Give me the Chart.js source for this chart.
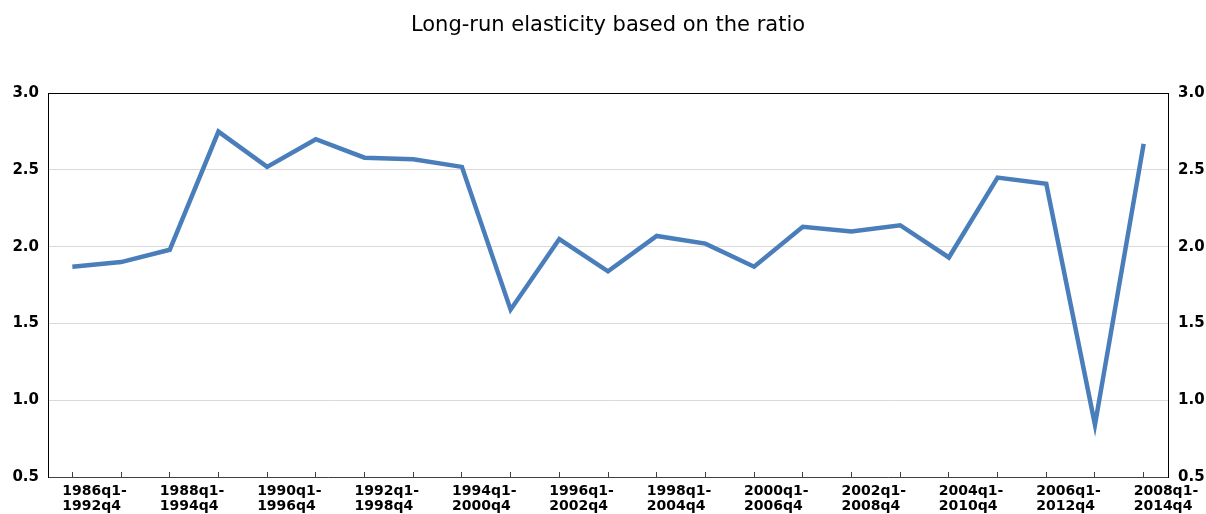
<!DOCTYPE html>
<html>
<head>
<meta charset="utf-8">
<script src="https://cdn.jsdelivr.net/npm/chart.js@4.4.1/dist/chart.umd.min.js"></script>
<style>
  html, body { margin: 0; padding: 0; background: #ffffff; }
  #wrap { width: 1206px; height: 514px; position: relative; }
</style>
</head>
<body>
<div id="wrap"><canvas id="c"></canvas></div>
<script>
const chartTitle = 'Long-run elasticity based on the ratio';
const categories = [
  '1986q1-1992q4', '1987q1-1993q4', '1988q1-1994q4', '1989q1-1995q4',
  '1990q1-1996q4', '1991q1-1997q4', '1992q1-1998q4', '1993q1-1999q4',
  '1994q1-2000q4', '1995q1-2001q4', '1996q1-2002q4', '1997q1-2003q4',
  '1998q1-2004q4', '1999q1-2005q4', '2000q1-2006q4', '2001q1-2007q4',
  '2002q1-2008q4', '2003q1-2009q4', '2004q1-2010q4', '2005q1-2011q4',
  '2006q1-2012q4', '2007q1-2013q4', '2008q1-2014q4'
];
const elasticity = [
  1.87, 1.90, 1.98, 2.75, 2.52, 2.70, 2.58, 2.57, 2.52, 1.59, 2.05, 1.84,
  2.07, 2.02, 1.87, 2.13, 2.10, 2.14, 1.93, 2.45, 2.41, 0.84, 2.67
];
const yMin = 0.5;
const yMax = 3.0;
const yStep = 0.5;

const FONT = "'DejaVu Sans', sans-serif";

function yGridColor(ctx) {
  const v = ctx.tick ? ctx.tick.value : null;
  if (v === yMax) return '#000000';
  if (v === yMin) return 'rgba(0,0,0,0)';
  return '#d9d9d9';
}

const frame = {
  id: 'frame',
  afterDraw(chart) {
    const a = chart.chartArea, ctx = chart.ctx;
    ctx.save();
    ctx.strokeStyle = '#000000';
    ctx.lineWidth = 1;
    ctx.beginPath();
    ctx.moveTo(Math.round(a.left) + 0.5, Math.round(a.top) + 0.5);
    ctx.lineTo(Math.round(a.right) - 0.5, Math.round(a.top) + 0.5);
    ctx.stroke();
    ctx.restore();
  }
};

new Chart(document.getElementById('c'), {
  type: 'line',
  data: {
    labels: categories,
    datasets: [{
      label: chartTitle,
      data: elasticity,
      borderColor: '#4a7ebb',
      backgroundColor: '#4a7ebb',
      borderWidth: 4.5,
      pointRadius: 0,
      pointHoverRadius: 0,
      tension: 0,
      fill: false,
      borderJoinStyle: 'miter',
      borderCapStyle: 'butt',
      yAxisID: 'y'
    }]
  },
  options: {
    responsive: true,
    maintainAspectRatio: false,
    animation: false,
    layout: { padding: 0 },
    plugins: {
      legend: { display: false },
      tooltip: { enabled: false },
      title: {
        display: true,
        fullSize: false,
        text: chartTitle,
        color: '#000000',
        font: { family: FONT, size: 21, weight: 'normal', lineHeight: 1.2 },
        padding: { top: 13, bottom: 55 }
      }
    },
    scales: {
      x: {
        type: 'category',
        offset: true,
        afterFit(scale) {
          scale.height = 37;
          scale.paddingLeft = 0;
          scale.paddingRight = 0;
        },
        grid: {
          display: true,
          drawOnChartArea: false,
          drawTicks: true,
          tickLength: -5,
          tickColor: '#404040',
          offset: false
        },
        border: { display: true, color: '#404040', width: 1 },
        ticks: {
          autoSkip: false,
          maxRotation: 0,
          minRotation: 0,
          align: 'start',
          labelOffset: -10,
          padding: 12,
          color: '#000000',
          font: { family: FONT, size: 14, weight: 'bold', lineHeight: 1.07 },
          callback(value, index) {
            const c = categories[index];
            return index % 2 === 0 ? [c.slice(0, 7), c.slice(7)] : '';
          }
        }
      },
      y: {
        position: 'left',
        min: yMin,
        max: yMax,
        afterFit(scale) { scale.width = 48; },
        grid: { color: yGridColor, lineWidth: 1, drawTicks: false },
        border: { display: true, color: '#000000', width: 1 },
        ticks: {
          stepSize: yStep,
          padding: 9,
          color: '#000000',
          font: { family: FONT, size: 15, weight: 'bold' },
          callback(v) { return Number(v).toFixed(1); }
        }
      },
      y2: {
        position: 'right',
        min: yMin,
        max: yMax,
        afterFit(scale) { scale.width = 38; },
        grid: { drawOnChartArea: false, drawTicks: false },
        border: { display: true, color: '#000000', width: 1 },
        ticks: {
          stepSize: yStep,
          padding: 10,
          color: '#000000',
          font: { family: FONT, size: 15, weight: 'bold' },
          callback(v) { return Number(v).toFixed(1); }
        }
      }
    }
  },
  plugins: [frame]
});
</script>
</body>
</html>
